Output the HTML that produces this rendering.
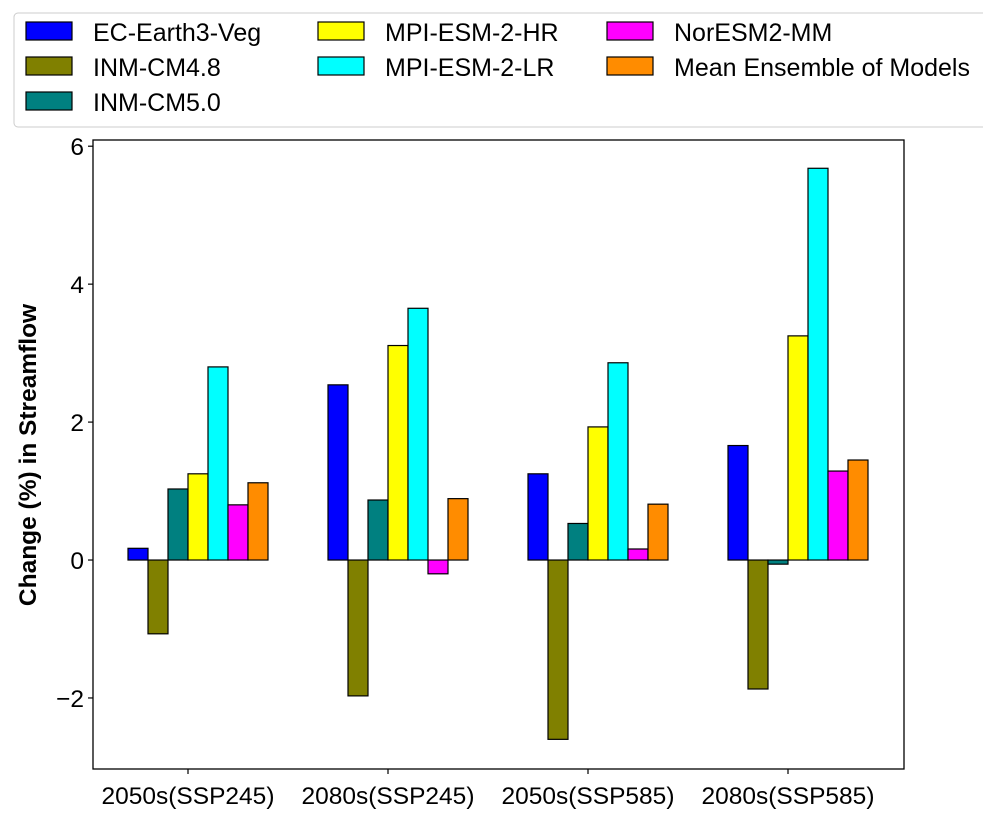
<!DOCTYPE html>
<html><head><meta charset="utf-8"><style>
body{margin:0;background:#fff;overflow:hidden;}
svg{display:block;font-family:"Liberation Sans",sans-serif;}
</style></head><body>
<svg id="chart" width="983" height="821" xmlns="http://www.w3.org/2000/svg"></svg>
<script>
const categories=["2050s(SSP245)","2080s(SSP245)","2050s(SSP585)","2080s(SSP585)"];
const seriesNames=["EC-Earth3-Veg","INM-CM4.8","INM-CM5.0","MPI-ESM-2-HR","MPI-ESM-2-LR","NorESM2-MM","Mean Ensemble of Models"];
const seriesColors=["#0000ff","#808000","#008080","#ffff00","#00ffff","#ff00ff","#ff8c00"];
const ecEarth=[0.17,2.54,1.25,1.66];
const inmCm48=[-1.07,-1.97,-2.6,-1.87];
const inmCm50=[1.03,0.87,0.53,-0.06];
const mpiHr=[1.25,3.11,1.93,3.25];
const mpiLr=[2.8,3.65,2.86,5.68];
const norEsm=[0.8,-0.2,0.16,1.29];
const meanEns=[1.12,0.89,0.81,1.45];
const yTicks=[-2,0,2,4,6];
const series=[ecEarth,inmCm48,inmCm50,mpiHr,mpiLr,norEsm,meanEns];

const NS="http://www.w3.org/2000/svg";
const svg=document.getElementById('chart');
const L=93,R=904,T=140,B=769;
const yMin=-3.03,yMax=6.09;
function y(v){return B-(v-yMin)/(yMax-yMin)*(B-T);}
function x(i){return 198+i*200;}
function mk(tag,attrs,parent){const e=document.createElementNS(NS,tag);for(const k in attrs)e.setAttribute(k,attrs[k]);(parent||svg).appendChild(e);return e;}

const barW=20;
series.forEach((vals,s)=>{
  vals.forEach((v,i)=>{
    const bx=x(i)-70+s*barW;
    const y0=y(0),y1=y(v);
    const r=mk('rect',{x:bx,y:Math.min(y0,y1),width:barW,height:Math.abs(y1-y0),fill:seriesColors[s],stroke:'#000','stroke-width':1.2});
    
    
  });
});
const frame=mk('rect',{x:L,y:T,width:R-L,height:B-T,fill:'none',stroke:'#000','stroke-width':1.3});


yTicks.forEach(t=>{
  mk('line',{x1:L-5,x2:L,y1:y(t),y2:y(t),stroke:'#000','stroke-width':1.2});
  const tx=mk('text',{x:L-9,y:y(t)+9,'text-anchor':'end','font-size':24.5});
  tx.textContent=t<0?'\u2212'+Math.abs(t):t;
  
  
});
categories.forEach((c,i)=>{
  const cx=x(i)-10;
  mk('line',{x1:cx,x2:cx,y1:B,y2:B+5,stroke:'#000','stroke-width':1.2});
  const tx=mk('text',{x:cx,y:B+35,'text-anchor':'middle','font-size':24.5});
  tx.textContent=c;
  
  
});
const yt=mk('text',{x:36,y:455,'text-anchor':'middle','font-size':24.5,'font-weight':'bold',transform:'rotate(-90 36 455)'});
yt.textContent='Change (%) in Streamflow';



const lg=mk('g',{});


mk('rect',{x:14,y:13,width:980,height:114,rx:4,fill:'#fff',stroke:'#ccc','stroke-width':1},lg);
const cols=[[0,1,2],[3,4],[5,6]];
const colX=[26,318,607];
cols.forEach((col,ci)=>col.forEach((s,ri)=>{
  const ly=22+ri*35;
  mk('rect',{x:colX[ci],y:ly,width:46,height:18,fill:seriesColors[s],stroke:'#000','stroke-width':1.2},lg);
  const t=mk('text',{x:colX[ci]+67,y:ly+19,'font-size':25},lg);
  t.textContent=seriesNames[s];
  
  
}));
</script>
</body></html>
